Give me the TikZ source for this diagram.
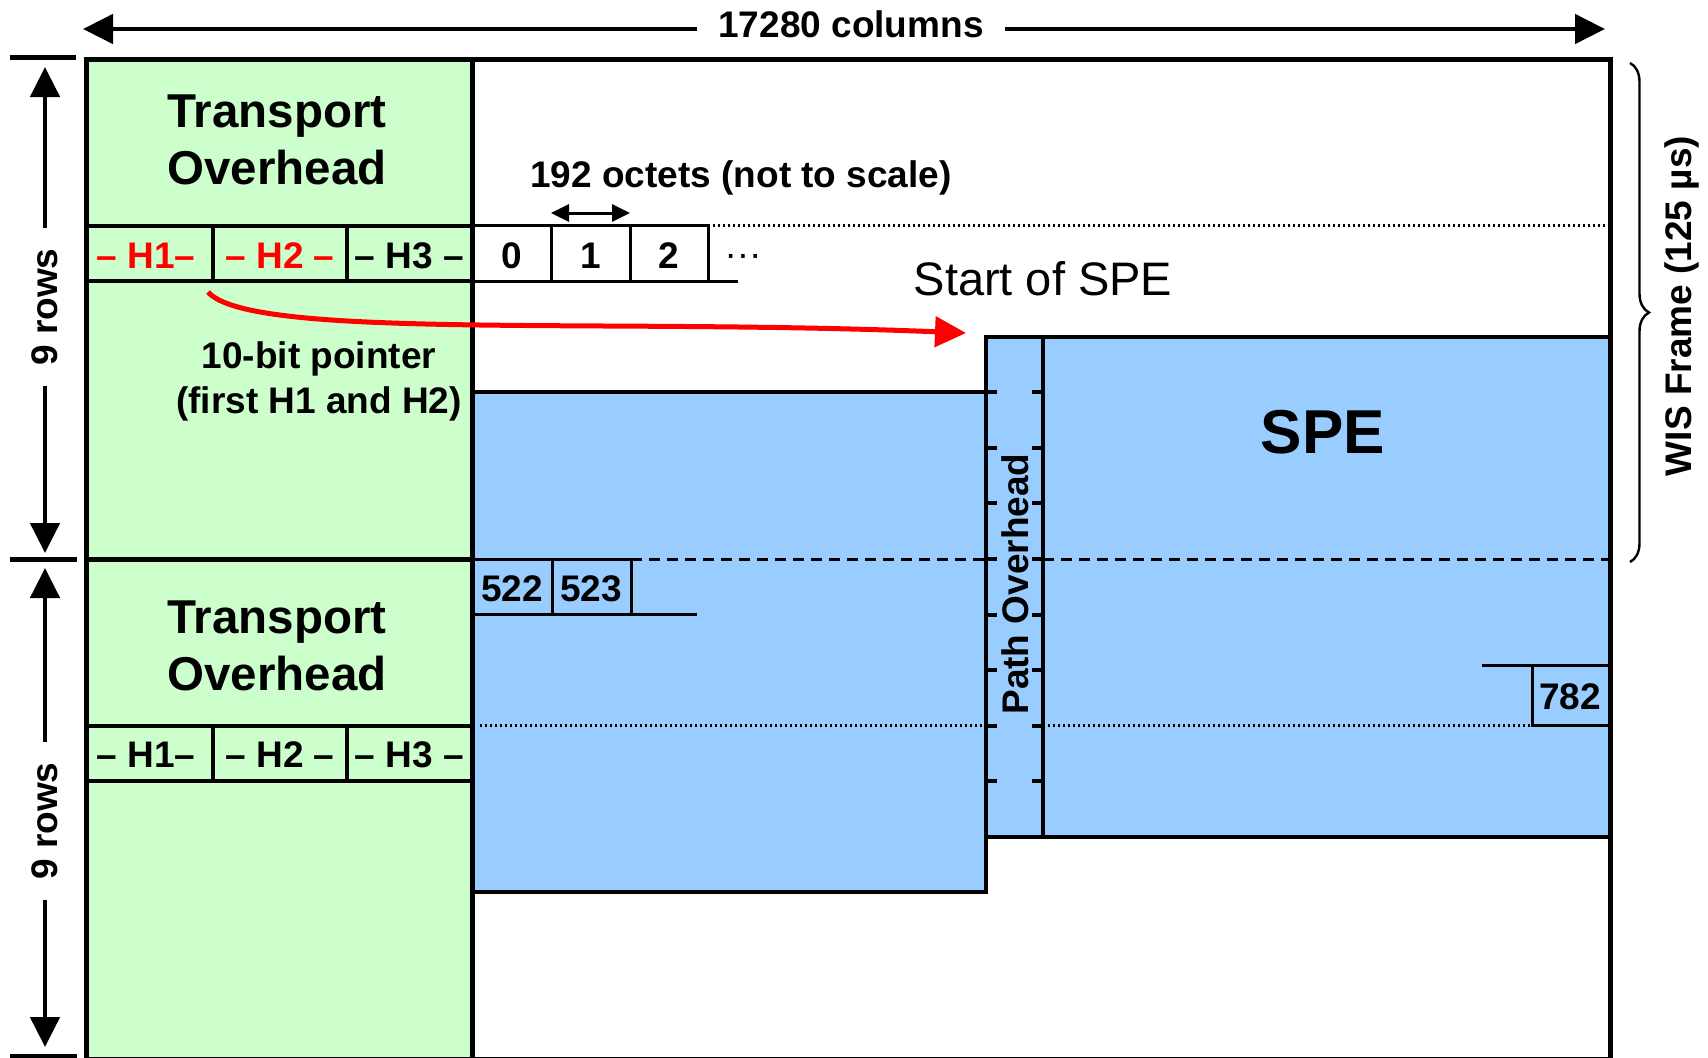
\documentclass[tikz,border=0pt]{standalone}
\usepackage{fontspec}
\setmainfont{Liberation Sans}
\usetikzlibrary{arrows.meta,decorations.pathreplacing}
\definecolor{tohgreen}{HTML}{CCFFCC}
\definecolor{speblue}{HTML}{99CCFF}
\definecolor{ptrred}{HTML}{FF0000}
\tikzset{
  lbl/.style={font=\bfseries\fontsize{18.5}{22}\selectfont, inner sep=0pt},
  baselbl/.style={lbl, anchor=base},
  tohtext/.style={font=\bfseries\fontsize{23.75}{28.5}\selectfont, align=center, inner sep=0pt},
  frameline/.style={line width=2.5pt},
  heavy/.style={line width=2pt},
  boxline/.style={line width=1.5pt},
  dotline/.style={line width=1.3pt, dash pattern=on 1.2pt off 1.3pt},
  dashline/.style={line width=1.5pt, dash pattern=on 5.5pt off 3.5pt},
  bigarrow/.style={line width=2.4pt, -{Triangle[length=15pt,width=14.5pt]}},
  smallarrow/.style={line width=1.5pt, {Triangle[length=9pt,width=8.5pt]}-{Triangle[length=9pt,width=8.5pt]}},
  ptrarrow/.style={draw=ptrred, line width=2.5pt, -{Triangle[length=15.5pt,width=15pt,fill=ptrred]}},
  bracestyle/.style={line width=1.2pt, decorate, decoration={brace, amplitude=9.5pt}}
}
\begin{document}
\begin{tikzpicture}[x=0.5pt,y=-0.5pt]
\useasboundingbox (0,0) rectangle (1708,1057);
\clip (0,0) rectangle (1708,1057);
% fills
\fill[tohgreen] (86,59) rectangle (472,1059);
\fill[speblue] (472,392.3) rectangle (986,892.3);
\fill[speblue] (986,336.8) rectangle (1610,836.8);
% row markers
\draw[dotline] (708,225.7) -- (1610,225.7);
\draw[dashline] (631,559) -- (986,559);
\draw[dashline] (1043,559) -- (1610,559);
\draw[dotline] (480,725.7) -- (986,725.7);
\draw[dotline] (1043,725.7) -- (1532,725.7);
% payload borders
\draw[heavy] (472,392.3) -- (986,392.3);
\draw[heavy] (472,892.3) -- (986,892.3) -- (986,336.8) -- (1610,336.8);
\draw[heavy] (986,836.8) -- (1610,836.8);
\draw[heavy] (1043,336.8) -- (1043,836.8);
\foreach \yy in {392.3,447.9,503.4,559,614.6,670.1,725.7,781.2}{
  \draw[heavy] (986,\yy) -- (997,\yy);
  \draw[heavy] (1032,\yy) -- (1043,\yy);
}
% transport overhead H rows
\foreach \ya/\yb in {225.7/281.2,725.7/781.2}{
  \draw[heavy] (86,\ya) -- (472,\ya);
  \draw[heavy] (86,\yb) -- (472,\yb);
  \draw[heavy] (213,\ya) -- (213,\yb);
  \draw[heavy] (347,\ya) -- (347,\yb);
}
\draw[frameline] (86,559) -- (472,559);
\draw[frameline] (472,59) -- (472,1059);
% octet boxes
\draw[boxline] (472,225.7) -- (708,225.7) -- (708,281.2);
\draw[boxline] (472,281.2) -- (738,281.2);
\draw[boxline] (551,225.7) -- (551,281.2);
\draw[boxline] (630,225.7) -- (630,281.2);
\draw[boxline] (472,559) -- (631,559) -- (631,614.6);
\draw[boxline] (472,614.6) -- (697,614.6);
\draw[boxline] (552,559) -- (552,614.6);
\draw[boxline] (1482,665.5) -- (1610,665.5);
\draw[boxline] (1532,665.5) -- (1532,725.7) -- (1610,725.7);
% frame
\draw[frameline] (86,59) rectangle (1610,1059);
\draw[frameline] (10,57) -- (76,57);
\draw[frameline] (10,559) -- (77,559);
\draw[frameline] (10,1056) -- (77,1056);
% texts
\node[tohtext] (tohA) at (277,140) {Transport\\Overhead};
\node[tohtext] (tohB) at (277,646) {Transport\\Overhead};
\node[baselbl, text=ptrred] (hA1) at (146,268) {– H1–};
\node[baselbl, text=ptrred] (hA2) at (280,268) {– H2 –};
\node[baselbl] (hA3) at (409.5,268) {– H3 –};
\node[baselbl] (hB1) at (146,767) {– H1–};
\node[baselbl] (hB2) at (280,767) {– H2 –};
\node[baselbl] (hB3) at (409.5,767) {– H3 –};
\node[baselbl] (o0) at (511.5,268) {0};
\node[baselbl] (o1) at (590.5,268) {1};
\node[baselbl] (o2) at (669,268) {2};
\node[anchor=base, inner sep=0pt, font=\fontsize{18.5}{22}\selectfont] (odots) at (743,266) {···};
\node[baselbl] (o522) at (512,601) {522};
\node[baselbl] (o523) at (591,601) {523};
\node[baselbl] (o782) at (1570,709) {782};
\node[baselbl] (octets) at (741,187) {192 octets (not to scale)};
\node[anchor=base, inner sep=0pt, font=\fontsize{23.5}{28}\selectfont] (startspe) at (1043,295) {Start of SPE};
\node[anchor=base, inner sep=0pt, font=\bfseries\fontsize{31}{36}\selectfont] (spe) at (1323,453) {SPE};
\node[lbl, align=center, font=\bfseries\fontsize{18.5}{22.5}\selectfont] (ptrlbl) at (319,381.5) {10-bit pointer\\(first H1 and H2)};
\node[lbl, rotate=90] (poh) at (1015.5,584) {Path Overhead};
\node[lbl, rotate=90] (wis) at (1682,306) {WIS Frame (125 µs)};
% column arrow
\node[baselbl, inner xsep=10.5pt] (cols) at (851,37) {17280 columns};
\coordinate (colsL) at (83,29);
\coordinate (colsR) at (1605,29);
\draw[bigarrow] (cols.west |- colsL) -- (colsL);
\draw[bigarrow] (cols.east |- colsR) -- (colsR);
% row arrows
\node[lbl, rotate=90, inner xsep=10pt] (rowsA) at (45,307) {9 rows};
\node[lbl, rotate=90, inner xsep=10pt] (rowsB) at (45,821) {9 rows};
\coordinate (rowsAtop) at (45,67);
\coordinate (rowsAbot) at (45,553);
\coordinate (rowsBtop) at (45,568);
\coordinate (rowsBbot) at (45,1047);
\draw[bigarrow] (rowsA.east) -- (rowsAtop);
\draw[bigarrow] (rowsA.west) -- (rowsAbot);
\draw[bigarrow] (rowsB.east) -- (rowsBtop);
\draw[bigarrow] (rowsB.west) -- (rowsBbot);
% octet width arrow
\coordinate (octL) at (551,213);
\coordinate (octR) at (630,213);
\draw[smallarrow] (octL) -- (octR);
% pointer
\coordinate (h1ptr) at (208,292);
\coordinate (spestart) at (966,333);
\draw[ptrarrow] (h1ptr) .. controls (250,340) and (600,318) .. (spestart);
% brace
\coordinate (wisT) at (1630,63);
\coordinate (wisB) at (1630,562);
\draw[bracestyle] (wisT) -- (wisB);
\end{tikzpicture}
\end{document}
